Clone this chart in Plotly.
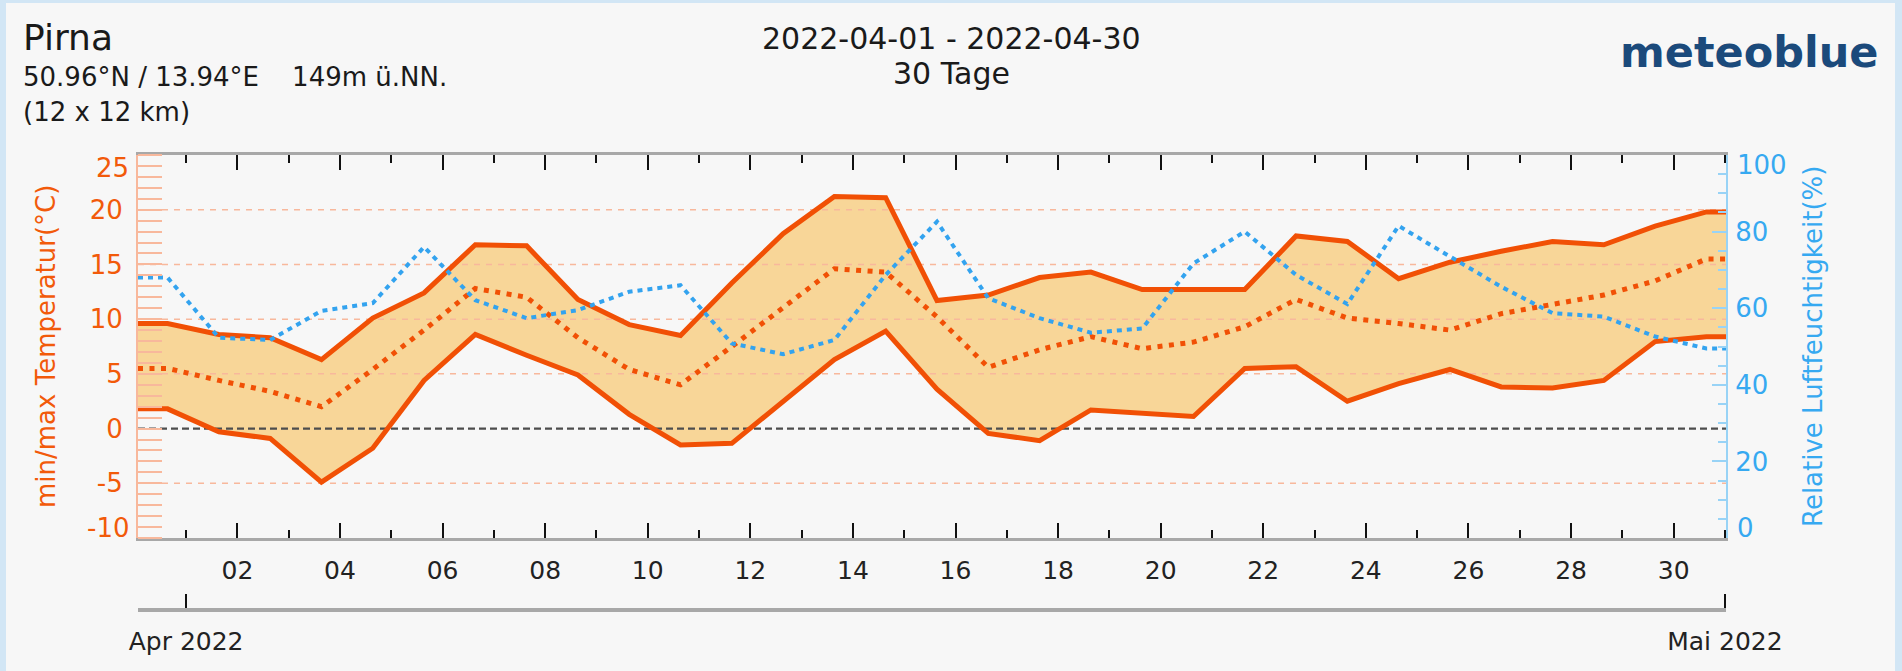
import plotly.graph_objects as go
import pandas as pd

# ---------------- data ----------------
tmax = [9.6, 8.6, 8.3, 6.3, 10.1, 12.4, 16.8, 16.7, 11.8, 9.5, 8.5, 13.3, 17.8, 21.2, 21.1, 11.7,
        12.2, 13.8, 14.3, 12.7, 12.7, 12.7, 17.6, 17.1, 13.7, 15.2, 16.2, 17.1, 16.8, 18.5, 19.8]
tmin = [1.8, -0.3, -0.9, -4.9, -1.8, 4.4, 8.6, 6.7, 4.9, 1.3, -1.5, -1.35, 2.5, 6.3, 8.9, 3.6,
        -0.45, -1.1, 1.7, 1.4, 1.1, 5.5, 5.65, 2.5, 4.1, 5.4, 3.8, 3.7, 4.4, 7.95, 8.4]
tmean = [5.5, 4.4, 3.4, 2.0, 5.4, 9.0, 12.8, 12.0, 8.3, 5.4, 4.0, 7.5, 11.1, 14.6, 14.3, 10.2,
         5.6, 7.2, 8.4, 7.3, 7.9, 9.3, 11.8, 10.1, 9.6, 9.0, 10.5, 11.4, 12.2, 13.5, 15.5]
humidity = [68, 52.3, 51.7, 59.3, 61.3, 76, 62.1, 57.4, 59.5, 64.3, 66.0, 50.8, 48.0, 51.7, 68.7, 82.6,
            62.6, 57.4, 53.6, 54.7, 71.7, 80.0, 68.7, 61.1, 81.5, 73.5, 65.6, 58.7, 57.8, 52.6, 49.5]
first_point = "2022-03-31 15:20"
x_start = "2022-03-31 01:30"
x_end = "2022-05-01 00:30"
month_ticks = ["2022-04-01", "2022-05-01"]
month_labels = ["Apr 2022", "Mai 2022"]
temp_range = [-10, 25]
hum_range = [0, 100]
temp_ticks = [-5, 0, 5, 10, 15, 20]
hum_ticks = [20, 40, 60, 80]
temp_grid = [-5, 5, 10, 15, 20]

# ---------------- geometry / style ----------------
W, H = 1902, 671
ML, MR, MT, MB = 138, 176, 155, 61
PW, PH = W - ML - MR, H - MT - MB
PLOT_TOP, PLOT_BOTTOM = 155, 538
ydom0 = (H - MB - PLOT_BOTTOM) / PH

def px(xp):
    return (xp - ML) / PW

def py(yp):
    return (H - MB - yp) / PH

FONT = "DejaVu Sans"
ORANGE = "#f15005"
ORANGE_TXT = "#f25a0a"
SALMON = "#f8b89c"
FILL = "#f8d698"
BLUE = "#33a3ef"
BLUE_TXT = "#36a9f1"
BLUE_LIGHT = "#98d3f6"
GRAY_BG = "#f7f7f7"
FRAME = "#d2e6f5"

days = list(pd.date_range(first_point, periods=len(tmax), freq="D"))
x_ext = [pd.Timestamp(x_start)] + days + [pd.Timestamp(x_end)]

def ext(vals):
    return [vals[0]] + list(vals) + [vals[-1]]

fig = go.Figure()
# band fill
fig.add_trace(go.Scatter(x=x_ext, y=ext(tmin), mode="lines", line=dict(width=0),
                         hoverinfo="skip", showlegend=False))
fig.add_trace(go.Scatter(x=x_ext, y=ext(tmax), mode="lines", line=dict(width=0),
                         fill="tonexty", fillcolor=FILL, hoverinfo="skip", showlegend=False))
# dashed grid (drawn above the fill)
for g in temp_grid:
    fig.add_trace(go.Scatter(x=[x_ext[0], x_ext[-1]], y=[g, g], mode="lines",
                             line=dict(color=SALMON, width=1.5, dash="6px,6px"),
                             hoverinfo="skip", showlegend=False))
# zero line
fig.add_trace(go.Scatter(x=[x_ext[0], x_ext[-1]], y=[0, 0], mode="lines",
                         line=dict(color="#4d4d4d", width=2.2, dash="7px,4px"),
                         hoverinfo="skip", showlegend=False))
# temperature lines
fig.add_trace(go.Scatter(x=x_ext, y=ext(tmax), mode="lines", line=dict(color=ORANGE, width=5),
                         showlegend=False, name="max"))
fig.add_trace(go.Scatter(x=x_ext, y=ext(tmin), mode="lines", line=dict(color=ORANGE, width=5),
                         showlegend=False, name="min"))
fig.add_trace(go.Scatter(x=x_ext, y=ext(tmean), mode="lines",
                         line=dict(color=ORANGE, width=5, dash="5px,6.5px"),
                         showlegend=False, name="mean"))
# humidity
fig.add_trace(go.Scatter(x=x_ext, y=ext(humidity), mode="lines", yaxis="y2",
                         line=dict(color=BLUE, width=4, dash="5px,5px"),
                         showlegend=False, name="rh"))
# carrier for the month axis
fig.add_trace(go.Scatter(x=days, y=tmean, mode="lines", xaxis="x2", opacity=0,
                         line=dict(width=0), hoverinfo="skip", showlegend=False))

fig.update_layout(
    width=W, height=H,
    margin=dict(l=ML, r=MR, t=MT, b=MB, pad=0),
    paper_bgcolor=GRAY_BG, plot_bgcolor=GRAY_BG,
    font=dict(family=FONT, color="#222"),
    showlegend=False,
    xaxis=dict(
        type="date", range=[x_start, x_end], anchor="y",
        tick0="2022-04-02", dtick=2 * 86400000, tickformat="%d",
        ticks="inside", ticklen=15, tickwidth=2, tickcolor="#111",
        minor=dict(dtick=86400000, tick0="2022-04-01", ticks="inside", ticklen=8,
                   tickwidth=2, tickcolor="#111", showgrid=False),
        showline=True, linecolor="#a8a8a8", linewidth=3, mirror="ticks",
        showgrid=False, zeroline=False,
        tickfont=dict(size=25, color="#222", family=FONT), ticklabelstandoff=8,
    ),
    xaxis2=dict(
        type="date", range=[x_start, x_end], overlaying="x", anchor="free", position=0,
        side="bottom", tickmode="array", tickvals=month_ticks, ticktext=month_labels,
        ticks="inside", ticklen=14, tickwidth=2, tickcolor="#111",
        showline=True, linecolor="#a8a8a8", linewidth=4,
        showgrid=False, zeroline=False,
        tickfont=dict(size=25, color="#222", family=FONT), ticklabelstandoff=8,
    ),
    yaxis=dict(
        range=temp_range, domain=[ydom0, 1], anchor="x",
        tickmode="array", tickvals=temp_ticks, ticktext=[str(v) for v in temp_ticks],
        ticks="", showgrid=False, zeroline=False,
        showline=True, linecolor=SALMON, linewidth=2,
        minor=dict(tick0=0, dtick=1, ticks="inside", ticklen=24, tickwidth=2, tickcolor=SALMON,
                   showgrid=False),
        tickfont=dict(size=26, color=ORANGE_TXT, family=FONT), ticklabelstandoff=8,
    ),
    yaxis2=dict(
        range=hum_range, overlaying="y", side="right", anchor="x",
        tickmode="array", tickvals=hum_ticks, ticktext=[str(v) for v in hum_ticks],
        ticks="inside", ticklen=14, tickwidth=1.5, tickcolor=BLUE_LIGHT,
        minor=dict(tick0=0, dtick=5, ticks="inside", ticklen=8, tickwidth=1.5,
                   tickcolor=BLUE_LIGHT, showgrid=False),
        showgrid=False, zeroline=False,
        showline=True, linecolor=BLUE_LIGHT, linewidth=2,
        tickfont=dict(size=26, color=BLUE_TXT, family=FONT), ticklabelstandoff=2,
    ),
)

# light-blue frame around the page
for (x0, y0, x1, y1) in [(0, 0, 6, H), (0, 0, W, 3), (1895, 0, W, H)]:
    fig.add_shape(type="rect", xref="paper", yref="paper",
                  x0=px(x0), x1=px(x1), y0=py(y1), y1=py(y0),
                  fillcolor=FRAME, line=dict(width=0), layer="above")

def note(text, x, y, size, color="#1a1a1a", xanchor="left", angle=0, weight="normal"):
    fig.add_annotation(text=text, xref="paper", yref="paper", x=px(x), y=py(y),
                       xanchor=xanchor, yanchor="middle", showarrow=False, textangle=angle,
                       font=dict(family=FONT, size=size, color=color, weight=weight))

nb = "\u00a0"
note("Pirna", 21, 37, 36)
note("50.96°N / 13.94°E" + nb * 3 + " 149m ü.NN.", 21, 77, 26)
note("(12 x 12 km)", 21, 112, 26)
note("2022-04-01 - 2022-04-30", 951, 38, 30, xanchor="center")
note("30 Tage", 951, 74, 30, xanchor="center")
note("meteoblue", 1749, 52, 43, color="#1b4a7b", xanchor="center", weight="bold")
note("min/max Temperatur(°C)", 46, 347, 26, color=ORANGE_TXT, xanchor="center", angle=-90)
note("Relative Luftfeuchtigkeit(%)", 1813, 347, 26, color=BLUE_TXT, xanchor="center", angle=-90)

# end labels of the value axes sit just inside the plot edges (as in the original)
note(str(temp_range[1]), 131, PLOT_TOP + 13, 26, color=ORANGE_TXT, xanchor="right")
note(str(temp_range[0]), 131, PLOT_BOTTOM - 10, 26, color=ORANGE_TXT, xanchor="right")
note(str(hum_range[1]), 1735, PLOT_TOP + 10, 26, color=BLUE_TXT, xanchor="left")
note(str(hum_range[0]), 1735, PLOT_BOTTOM - 10, 26, color=BLUE_TXT, xanchor="left")

fig.write_html("out.html", config={"displayModeBar": False},
               post_script="document.body.style.margin='0';document.body.style.overflow='hidden';")
